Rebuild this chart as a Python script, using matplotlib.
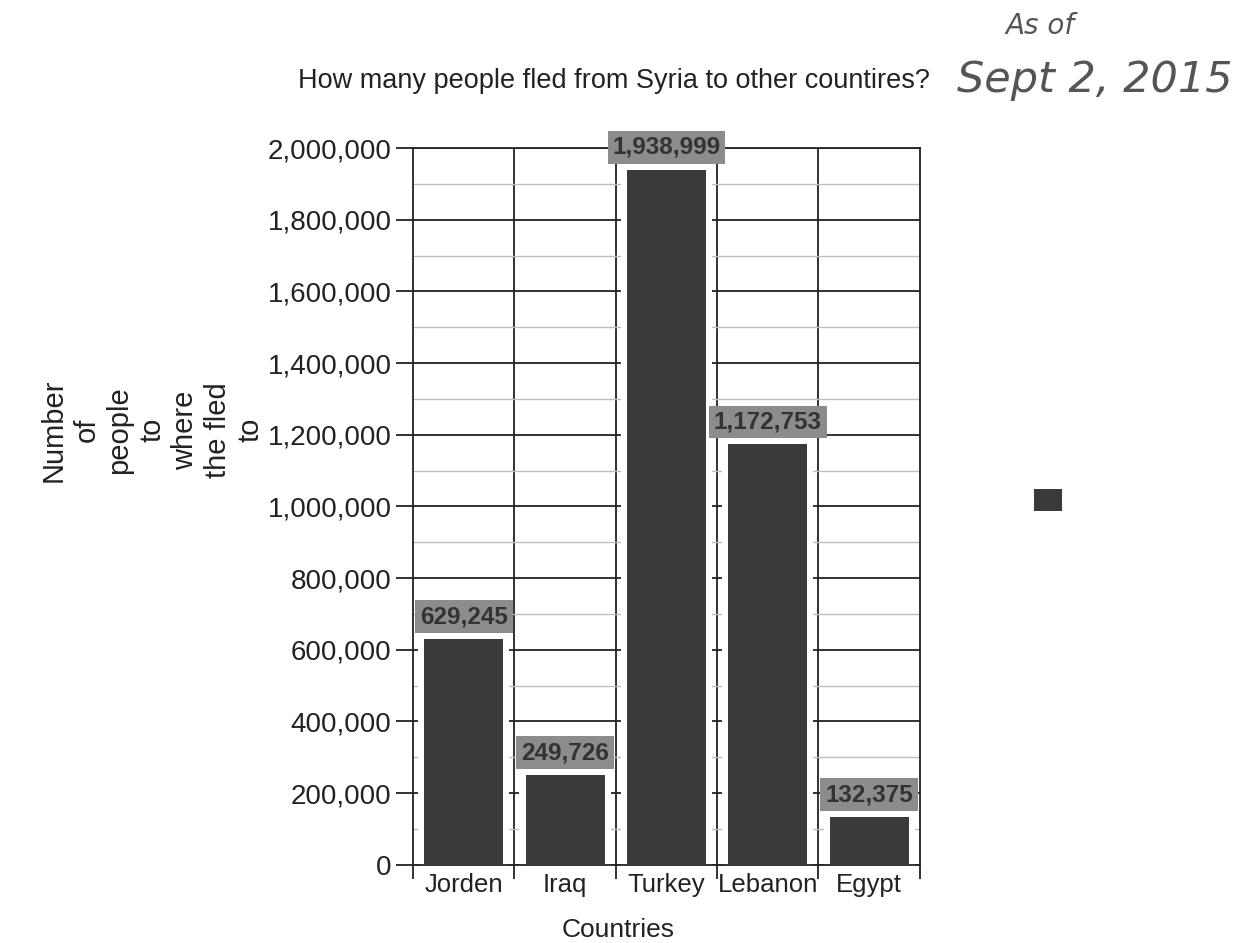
import numpy as np
import matplotlib.pyplot as plt
from matplotlib.ticker import FuncFormatter, MultipleLocator
from matplotlib.patches import Patch

plt.rcParams["font.family"] = ["Liberation Sans", "DejaVu Sans"]

countries = ["Jorden", "Iraq", "Turkey", "Lebanon", "Egypt"]
people = [629245, 249726, 1938999, 1172753, 132375]

fig = plt.figure(figsize=(12.48, 9.43), dpi=100)
ax = fig.add_axes([0.331, 0.083, 0.406, 0.760])

x = np.arange(len(countries))
# white halo behind the bars so the grid stops short of them
ax.bar(x, people, width=0.9, color="white", linewidth=0, zorder=2)
ax.bar(x, people, width=0.78, color="#3a3a3a", linewidth=0, zorder=3)

for xi, v in zip(x, people):
    ax.annotate(f"{v:,}", (xi, v), xytext=(0, 8), textcoords="offset points",
                ha="center", va="bottom", fontsize=17.5, fontweight="bold", color="#333333",
                bbox=dict(boxstyle="square,pad=0.2", fc="#8c8c8c", ec="none"), zorder=5)

ax.set_xlim(-0.5, 4.5)
ax.set_ylim(0, 2000000)
ax.yaxis.set_major_locator(MultipleLocator(200000))
ax.yaxis.set_minor_locator(MultipleLocator(100000))
ax.yaxis.set_major_formatter(FuncFormatter(lambda v, p: f"{int(v):,}"))
ax.grid(axis="y", which="major", color="#222222", linewidth=1.3, zorder=1)
ax.grid(axis="y", which="minor", color="#bdbdbd", linewidth=1.0, zorder=1)

ax.set_xticks(x)
ax.set_xticklabels(countries, fontsize=18.5, color="#222222")
ax.set_xticks(np.arange(-0.5, 5, 1), minor=True)
ax.tick_params(axis="x", which="major", length=0, pad=6)
ax.tick_params(axis="x", which="minor", length=10, width=1.3, color="#222222")
for b in np.arange(0.5, 4.5, 1):
    ax.axvline(b, color="#222222", linewidth=1.3, zorder=1)
ax.tick_params(axis="y", which="major", length=12, width=1.3, labelsize=20, colors="#222222")
ax.tick_params(axis="y", which="minor", length=0)

for s in ax.spines.values():
    s.set_color("#222222")
    s.set_linewidth(1.3)

ax.set_xlabel("Countries", fontsize=19, color="#222222")
ax.xaxis.set_label_coords(0.404, -0.075)
fig.text(0.122, 0.544, "Number\nof\npeople\nto\nwhere\nthe fled\nto", rotation=90,
         ha="center", va="center", fontsize=21, color="#222222", linespacing=1.22, multialignment="center")

fig.text(0.492, 0.914, "How many people fled from Syria to other countires?",
         ha="center", va="center", fontsize=19.5, color="#222222")

fig.text(0.833, 0.972, "As of", fontsize=20, color="#555555", family="DejaVu Sans",
         style="italic", fontweight="light", ha="center", va="center")
fig.text(0.877, 0.915, "Sept 2, 2015", fontsize=31, color="#555555", family="DejaVu Sans",
         style="italic", fontweight="light", ha="center", va="center")

fig.legend(handles=[Patch(fc="#3a3a3a", ec="none")], labels=[""], loc="center",
           bbox_to_anchor=(0.84, 0.47), frameon=False, handlelength=2, handleheight=2,
           handletextpad=0, borderpad=0)

fig.savefig("out.png", dpi=100, facecolor="white")
